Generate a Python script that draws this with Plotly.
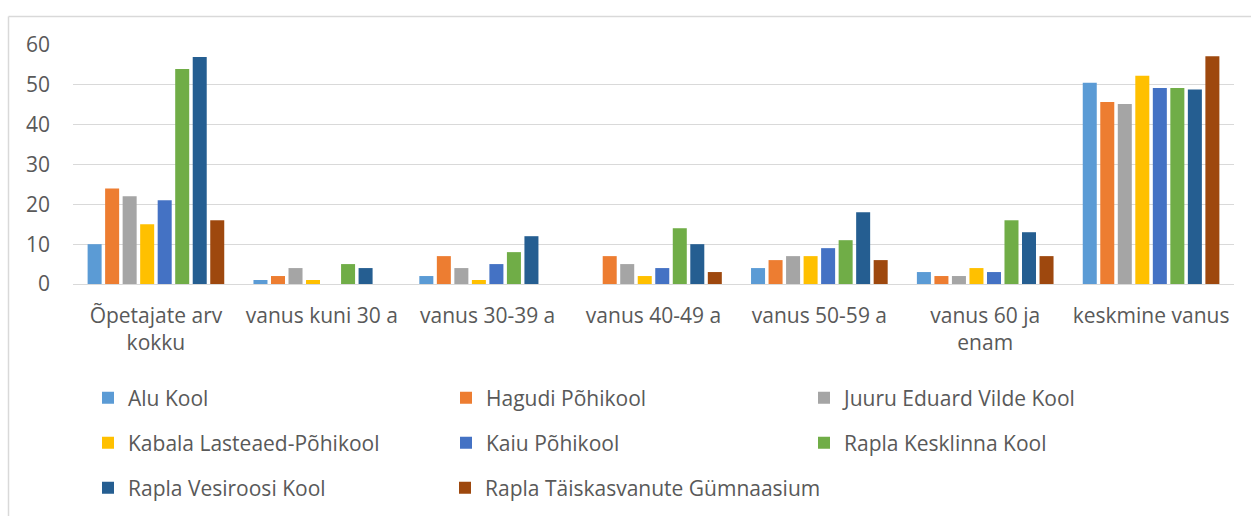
import plotly.graph_objects as go

categories = ["Õpetajate arv<br>kokku", "vanus kuni 30 a", "vanus 30-39 a", "vanus 40-49 a",
              "vanus 50-59 a", "vanus 60 ja<br>enam", "keskmine vanus"]

alu_kool = [10, 1, 2, 0, 4, 3, 50.5]
hagudi = [24, 2, 7, 7, 6, 2, 45.7]
juuru = [22, 4, 4, 5, 7, 2, 45.2]
kabala = [15, 1, 1, 2, 7, 4, 52.3]
kaiu = [21, 0, 5, 4, 9, 3, 49.2]
kesklinna = [54, 5, 8, 14, 11, 16, 49.2]
vesiroosi = [57, 4, 12, 10, 18, 13, 48.8]
taiskasvanute = [16, 0, 0, 3, 6, 7, 57.2]

series = [
    ("Alu Kool", alu_kool, "#5B9BD5", "legend"),
    ("Hagudi Põhikool", hagudi, "#ED7D31", "legend"),
    ("Juuru Eduard Vilde Kool", juuru, "#A5A5A5", "legend"),
    ("Kabala Lasteaed-Põhikool", kabala, "#FFC000", "legend2"),
    ("Kaiu Põhikool", kaiu, "#4472C4", "legend2"),
    ("Rapla Kesklinna Kool", kesklinna, "#70AD47", "legend2"),
    ("Rapla Vesiroosi Kool", vesiroosi, "#255E91", "legend3"),
    ("Rapla Täiskasvanute Gümnaasium", taiskasvanute, "#9E480E", "legend4"),
]

FONT = "'Open Sans', 'Noto Sans', sans-serif"
TXT = "#595959"

fig = go.Figure()
for name, vals, color, lg in series:
    fig.add_trace(go.Bar(name=name, x=categories, y=vals, marker_color=color,
                         marker_line_width=0, legend=lg))

W, H = 1251, 516
L, R, T, B = 73, 17, 45, 232
pw, ph = W - L - R, H - T - B

def py(pix):
    return (H - B - pix) / ph

def px(pix):
    return (pix - L) / pw

leg_common = dict(orientation="h", xanchor="left", yanchor="middle",
                  itemwidth=30,
                  font=dict(family=FONT, size=21, color=TXT), bgcolor="rgba(0,0,0,0)",
                  traceorder="normal")

fig.update_layout(
    width=W, height=H,
    margin=dict(l=L, r=R, t=T, b=B, autoexpand=False),
    paper_bgcolor="white", plot_bgcolor="white",
    barmode="group", bargap=0.155, bargroupgap=0.2,
    font=dict(family=FONT, size=21, color=TXT),
    legend=dict(y=py(398), x=px(88), entrywidth=313, entrywidthmode="pixels", **leg_common),
    legend2=dict(y=py(443), x=px(88), entrywidth=313, entrywidthmode="pixels", **leg_common),
    legend3=dict(y=py(488), x=px(88), **leg_common),
    legend4=dict(y=py(488), x=px(88 + 357), **leg_common),
    xaxis=dict(showgrid=False, showline=False, ticks="", ticklabelstandoff=17,
               tickfont=dict(family=FONT, size=21, color=TXT)),
    yaxis=dict(range=[0, 60], dtick=10, showgrid=True, gridcolor="#D9D9D9", gridwidth=1.3,
               zeroline=True, zerolinecolor="#D9D9D9", zerolinewidth=1.3,
               showline=False, ticks="", ticklabelstandoff=22,
               tickfont=dict(family=FONT, size=21, color=TXT)),
    shapes=[
        dict(type="line", xref="paper", yref="paper", x0=px(8.5), x1=px(1260), y0=py(16.5), y1=py(16.5),
             line=dict(color="#D9D9D9", width=1.5)),
        dict(type="line", xref="paper", yref="paper", x0=px(8.5), x1=px(8.5), y0=py(16.5), y1=py(530),
             line=dict(color="#D9D9D9", width=1.5)),
    ],
)

fig.write_html("out.html", config={"displayModeBar": False},
               post_script="document.body.style.margin='0';document.body.style.overflow='hidden';")
